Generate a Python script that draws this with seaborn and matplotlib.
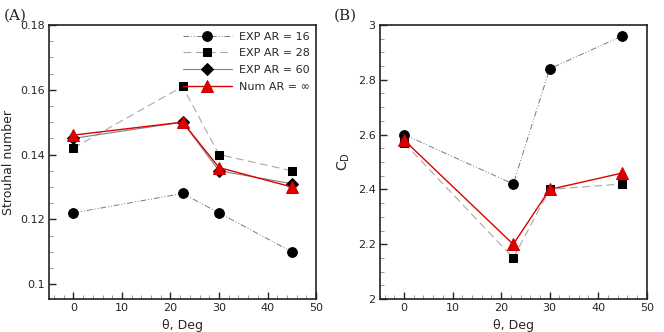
import pandas as pd
import seaborn as sns
import matplotlib.pyplot as plt
from matplotlib.ticker import MultipleLocator

theta = [0, 22.5, 30, 45]

# Strouhal number
st_ar16 = [0.122, 0.128, 0.122, 0.110]
st_ar28 = [0.142, 0.161, 0.140, 0.135]
st_ar60 = [0.145, 0.150, 0.135, 0.131]
st_num = [0.146, 0.150, 0.136, 0.130]

# drag coefficient
cd_ar16 = [2.60, 2.42, 2.84, 2.96]
cd_ar28 = [2.57, 2.15, 2.40, 2.42]
cd_num = [2.58, 2.20, 2.40, 2.46]

labels = ["EXP AR = 16", "EXP AR = 28", "EXP AR = 60", "Num AR = \u221e"]

styles = {
    "EXP AR = 16": dict(color="#7a7a7a", ls=(0, (6, 2, 1, 2, 1, 2)), marker="o", mfc="black", mec="black", ms=7, lw=0.7),
    "EXP AR = 28": dict(color="#a8a8a8", ls=(0, (7, 4)), marker="s", mfc="black", mec="black", ms=6, lw=0.8),
    "EXP AR = 60": dict(color="#808080", ls="-", marker="D", mfc="black", mec="black", ms=6.5, lw=0.8),
    "Num AR = \u221e": dict(color="#dd0000", ls="-", marker="^", mfc="#dd0000", mec="#cc0000", ms=8, lw=1.0),
}

sns.set_style("ticks")
plt.rcParams["font.family"] = ["DejaVu Sans"]


def draw(ax, series):
    for name, vals in series:
        df = pd.DataFrame({"theta": theta, "val": vals})
        st = styles[name]
        sns.lineplot(data=df, x="theta", y="val", ax=ax, label=name, color=st["color"],
                     linestyle=st["ls"], linewidth=st["lw"], marker=st["marker"],
                     markerfacecolor=st["mfc"], markeredgecolor=st["mec"], markersize=st["ms"])
    ax.set_xlim(-5, 50)
    ax.xaxis.set_major_locator(MultipleLocator(10))
    ax.xaxis.set_minor_locator(MultipleLocator(2))
    ax.tick_params(which="both", direction="in", top=False, right=False, labelsize=8, pad=3)
    ax.tick_params(which="major", length=5, width=1)
    ax.tick_params(which="minor", length=3, width=0.6, color="#888888")
    for s in ax.spines.values():
        s.set_linewidth(1.2)
        s.set_color("#222222")
    ax.set_xlabel("\u03b8, Deg", fontsize=9)


fig = plt.figure(figsize=(6.64, 3.32), dpi=100)
ax1 = fig.add_axes([0.074, 0.099, 0.402, 0.826])
ax2 = fig.add_axes([0.572, 0.099, 0.402, 0.826])

draw(ax1, [(labels[0], st_ar16), (labels[1], st_ar28), (labels[2], st_ar60), (labels[3], st_num)])
ax1.set_ylim(0.0954, 0.18)
ax1.yaxis.set_minor_locator(MultipleLocator(0.005))
ax1.set_yticks([0.1, 0.12, 0.14, 0.16, 0.18])
ax1.set_yticklabels(["0.1", "0.12", "0.14", "0.16", "0.18"])
ax1.set_ylabel("Strouhal number", fontsize=9)
ax1.legend(loc="upper right", bbox_to_anchor=(1.0, 1.0), frameon=False, fontsize=8,
           handlelength=4.4, borderaxespad=0.2, labelspacing=0.6, handletextpad=0.6)

draw(ax2, [(labels[0], cd_ar16), (labels[1], cd_ar28), (labels[3], cd_num)])
ax2.set_ylim(2, 3)
ax2.yaxis.set_minor_locator(MultipleLocator(0.05))
ax2.set_yticks([2, 2.2, 2.4, 2.6, 2.8, 3])
ax2.set_yticklabels(["2", "2.2", "2.4", "2.6", "2.8", "3"])
ax2.set_ylabel("C$_\\mathregular{D}$", fontsize=10)
ax2.get_legend().remove()

fig.text(0.005, 0.975, "(A)", family="DejaVu Serif", fontsize=11, va="top", ha="left")
fig.text(0.502, 0.975, "(B)", family="DejaVu Serif", fontsize=11, va="top", ha="left")

fig.savefig("out.png", dpi=100)
